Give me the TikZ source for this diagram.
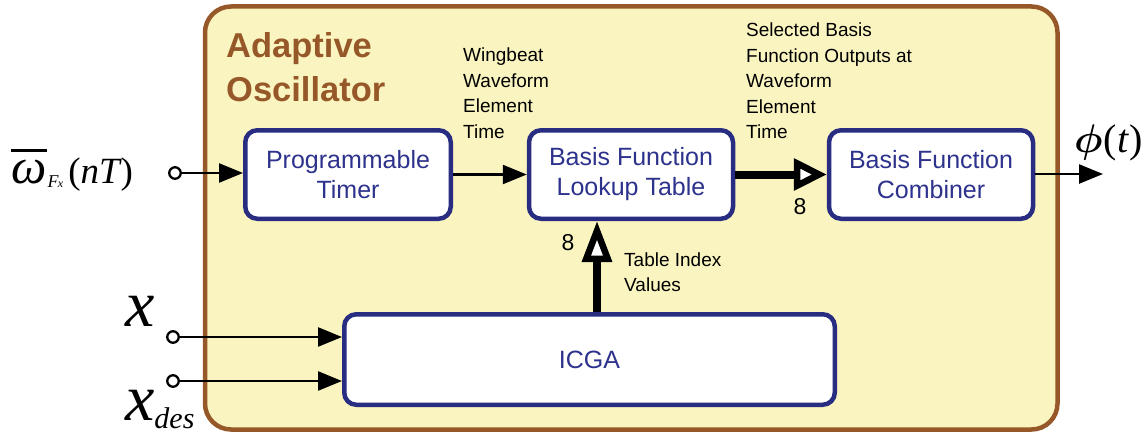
\RequirePackage{fix-cm}
\documentclass[tikz,border=0pt]{standalone}
\usepackage{amsmath}
\usepackage{fontspec}
\setmainfont{Liberation Sans}
\newfontfamily\libserif{Liberation Serif}
\usetikzlibrary{arrows.meta,calc}
\definecolor{brownc}{RGB}{150,88,40}
\definecolor{yellowc}{RGB}{250,245,192}
\definecolor{bluec}{RGB}{40,45,130}
\definecolor{bluetext}{RGB}{45,50,140}
\tikzset{
  outerbox/.style={draw=brownc, line width=4.5pt, fill=yellowc, rounded corners=26pt, inner sep=0pt},
  blockbox/.style={draw=bluec, line width=4.5pt, fill=white, rounded corners=12pt,
    minimum width=204pt, minimum height=88.5pt, inner sep=0pt, align=center,
    text=bluetext, font=\fontsize{25}{30}\selectfont},
  port/.style={circle, draw=black, line width=2.3pt, fill=white, minimum size=11.5pt, inner sep=0pt},
  thinarrow/.style={line width=2.5pt, -{Triangle[length=24pt,width=19pt]}},
  thickharrow/.style={line width=8pt, -{Triangle[length=33pt,width=31pt,line width=6.5pt,fill=white]}},
  thickvarrow/.style={line width=8pt, -{Triangle[length=41pt,width=29pt,line width=6.5pt,fill=white]}},
  lbl/.style={align=left, inner sep=0pt, font=\fontsize{19}{25.5}\selectfont},
  numlbl/.style={inner sep=0pt, font=\fontsize{23}{23}\selectfont},
  titletext/.style={align=left, inner sep=0pt, text=brownc, font=\fontsize{34.5}{44}\selectfont\bfseries},
  mathlbl/.style={inner sep=0pt, font=\libserif}
}
\begin{document}
\begin{tikzpicture}[x=1pt,y=-1pt]
\useasboundingbox (0,0) rectangle (1148,436);
\node[outerbox, minimum width=852.5pt, minimum height=423pt] (osc) at (631.25,218) {};
\node[titletext, anchor=west] (title) at (226,67) {Adaptive\\Oscillator};

\node[blockbox, minimum width=205.5pt] (timer) at (348,174.5) {Programmable\\Timer};
\node[blockbox] (lookup) at (631,174.5) {Basis Function\\Lookup Table};
\node[blockbox] (comb) at (931,174.5) {Basis Function\\Combiner};
\node[blockbox, minimum width=490.5pt, minimum height=90.5pt] (icga) at (589.5,359.5) {ICGA};

\node[port] (in1) at (175,173) {};
\node[port] (in2) at (173,337) {};
\node[port] (in3) at (173,381) {};
\coordinate (out) at (1103,174);
\coordinate (vx) at (597,0);

\draw[thinarrow] (in1) -- (in1 -| timer.west);
\draw[thinarrow] (timer) -- (lookup);
\draw[thickharrow] (lookup) -- (comb);
\draw[thinarrow] (comb.east |- out) -- (out);
\draw[thickvarrow] (icga.north -| vx) -- (lookup.south -| vx);
\draw[thinarrow] (in2) -- (in2 -| icga.west);
\draw[thinarrow] (in3) -- (in3 -| icga.west);

\node[lbl, anchor=west] (wlab) at (463,93) {Wingbeat\\Waveform\\Element\\Time};
\node[lbl, anchor=west] (slab) at (746,81) {Selected Basis\\Function Outputs at\\Waveform\\Element\\Time};
\node[lbl, anchor=west, font=\fontsize{19}{25}\selectfont] (tlab) at (624,272) {Table Index\\Values};
\node[numlbl] (n8a) at (800,207) {8};
\node[numlbl] (n8b) at (568,243) {8};

\node[mathlbl, anchor=base west] (philab) at (1074,152) {\fontsize{40}{40}\selectfont$\boldsymbol{\phi}$\kern1pt(\textit{t\kern1pt})};
\node[mathlbl, anchor=base west] (omlab) at (11,183) {\fontsize{50}{50}\selectfont\vbox{\hrule height 2.3pt\kern 8pt\hbox{\itshape ω}}\kern1pt\raisebox{-4pt}{\fontsize{18}{18}\selectfont\itshape F\kern-0.5pt\fontsize{12}{12}\selectfont x}\kern5pt\fontsize{37}{37}\selectfont(\textit{nT\kern1pt})};
\node[mathlbl, anchor=base west] (xlab) at (125,326) {\fontsize{66}{66}\selectfont\itshape x};
\node[mathlbl, anchor=base west] (xdlab) at (125,420) {\fontsize{66}{66}\selectfont\itshape x\raisebox{-8pt}{\fontsize{30}{30}\selectfont des}};
\end{tikzpicture}
\end{document}
